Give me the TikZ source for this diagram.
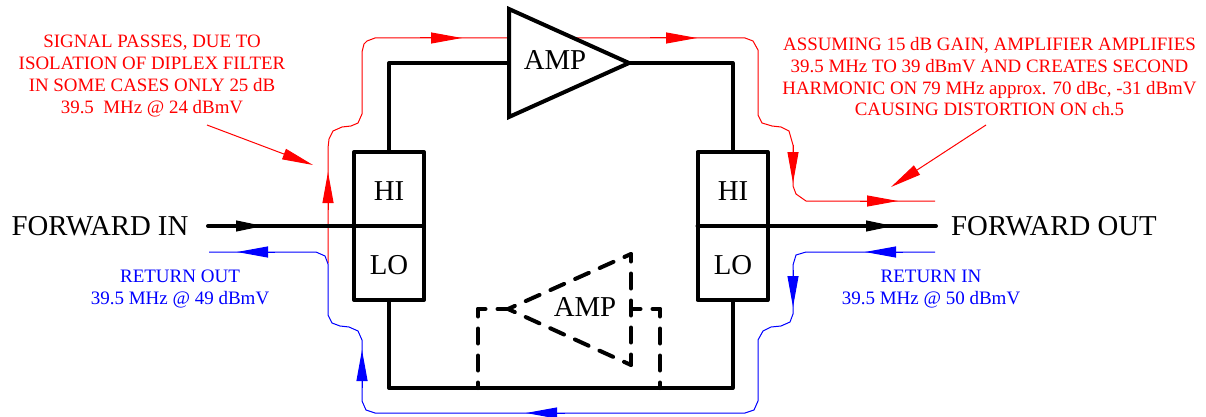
\documentclass[tikz,border=0pt]{standalone}
\usepackage{fontspec}
\setmainfont{Liberation Serif}
\usetikzlibrary{arrows.meta}
\tikzset{
  wire/.style={line width=4pt,black,line cap=round,line join=round},
  dashwire/.style={wire,line cap=round,dash pattern=on 15pt off 12pt,dash phase=7.5pt},
  boxn/.style={draw,line width=4pt,outer sep=0pt,minimum width=70pt,minimum height=74pt,inner sep=0pt,line join=round},
  big/.style={inner sep=0pt,anchor=base,font=\fontsize{28.8}{30}\selectfont},
  rednote/.style={inner sep=0pt,align=center,text=red,font=\fontsize{18.9}{21.7}\selectfont},
  bluenote/.style={inner sep=0pt,align=center,text=blue,font=\fontsize{19}{21.7}\selectfont},
  redline/.style={red,line width=1pt,line join=round},
  blueline/.style={blue,line width=1pt,line join=round},
  redhead/.style={redline,-{Triangle[length=31pt,width=11pt]}},
  bluehead/.style={blueline,-{Triangle[length=31pt,width=11pt]}},
  blackhead/.style={black,line width=1pt,-{Triangle[length=27pt,width=11pt]}},
}
\begin{document}
\begin{tikzpicture}[x=1pt,y=-1pt]
\useasboundingbox[fill=white] (0,0) rectangle (1206,417);
% coordinates of signal paths
\coordinate (inL) at (208,226);
\coordinate (outR) at (936,226);
\coordinate (ampA) at (509,9);
\coordinate (ampB) at (509,117);
\coordinate (ampTip) at (629,63);
\coordinate (ampIn) at (509,63);
\coordinate (dTip) at (508,309);
\coordinate (dA) at (631,254);
\coordinate (dB) at (631,365);
\coordinate (dOut) at (631,309);
\coordinate (dL) at (478,309);
\coordinate (dR) at (660,309);
\coordinate (busL) at (389,388);
\coordinate (busR) at (732.5,388);
\coordinate (busA) at (478,388);
\coordinate (busB) at (660,388);
% red signal (drawn first, amplifier sits on top)
\coordinate (r0) at (328,263);
\coordinate (r1) at (509,38);
\coordinate (r2) at (572,38);
\coordinate (r3) at (935,201);
\draw[redline] (r0) -- (328,148) -- (329,139) -- (333,131) -- (342,127) -- (351,126) -- (358,123) -- (362,114)
  -- (362,52) -- (364,44) -- (367,41) -- (375,38) -- (r1);
\draw[redline] (r2) -- (745,38) -- (753,41) -- (758,50) -- (758,115) -- (762,123) -- (772,126) -- (781,127) -- (789,131) -- (793,145)
  -- (793,186) -- (796,194) -- (806,201) -- (r3);
% blue signal
\coordinate (b0) at (209,252);
\coordinate (b1) at (935,252);
\draw[blueline] (b1) -- (806,252) -- (796,255) -- (793,265) -- (793,314) -- (790,322) -- (781,326) -- (771,327) -- (763,331) -- (758,340)
  -- (758,401) -- (754,410) -- (745,413) -- (375,413) -- (366,410) -- (362,401) -- (362,340) -- (358,331) -- (349,327) -- (340,326) -- (332,323) -- (328,315)
  -- (328,264) -- (325,256) -- (316,252) -- (b0);
% black circuit
\node[boxn] (hiL) at (389,189) {};
\node[boxn] (loL) at (389,263) {};
\node[boxn] (hiR) at (732.5,189) {};
\node[boxn] (loR) at (732.5,263) {};
\node[big] (hiLt) at (389,200) {HI};
\node[big] (loLt) at (389,274) {LO};
\node[big] (hiRt) at (733,200) {HI};
\node[big] (loRt) at (733,274) {LO};
\draw[wire] (hiL.north) |- (ampIn);
\draw[wire] (ampTip) -| (hiR.north);
\draw[wire] (loL.south) |- (busL) -- (busR) -- (loR.south);
\draw[wire,fill=white,miter limit=10,line cap=butt,line join=miter] (ampA) -- (ampB) -- (ampTip) -- cycle;
\node[big] (ampT) at (555,70) {AMP};
\draw[wire] (inL) -- (hiL.south east);
\draw[wire] (hiR.south west) -- (outR);
% dashed amplifier
\draw[dashwire] (dTip) -- (dA);
\draw[dashwire] (dTip) -- (dB);
\draw[dashwire] (dA) -- (dB);
\draw[dashwire] (dL) -- (dTip);
\draw[dashwire] (dL) -- (busA);
\draw[dashwire] (dR) -- (dOut);
\draw[dashwire] (dR) -- (busB);
\node[big] (dampT) at (585,316) {AMP};
% arrowheads
\coordinate (h1a) at (420,38); \coordinate (h1b) at (462,38);
\draw[redhead] (h1a) -- (h1b);
\coordinate (h2a) at (650,38); \coordinate (h2b) at (697,38);
\draw[redhead] (h2a) -- (h2b);
\coordinate (h3a) at (328,210); \coordinate (h3b) at (328,172);
\draw[redhead] (h3a) -- (h3b);
\coordinate (h4a) at (793,145); \coordinate (h4b) at (793,183);
\draw[redhead] (h4a) -- (h4b);
\coordinate (h5a) at (860,201); \coordinate (h5b) at (898,201);
\draw[redhead] (h5a) -- (h5b);
\coordinate (k1a) at (275,252); \coordinate (k1b) at (237,252);
\draw[bluehead] (k1a) -- (k1b);
\coordinate (k2a) at (362,388); \coordinate (k2b) at (362,350);
\draw[bluehead] (k2a) -- (k2b);
\coordinate (k3a) at (565,413); \coordinate (k3b) at (526,413);
\draw[bluehead] (k3a) -- (k3b);
\coordinate (k4a) at (793,270); \coordinate (k4b) at (793,307);
\draw[bluehead] (k4a) -- (k4b);
\coordinate (k5a) at (903,252); \coordinate (k5b) at (865,252);
\draw[bluehead] (k5a) -- (k5b);
\coordinate (m1a) at (230,226); \coordinate (m1b) at (263,226);
\draw[blackhead] (m1a) -- (m1b);
\coordinate (m2a) at (860,226); \coordinate (m2b) at (893,226);
\draw[blackhead] (m2a) -- (m2b);
% labels
\node[big] (fin) at (100,235) {FORWARD IN};
\node[big] (fout) at (1054,235) {FORWARD OUT};
\node[rednote] (noteL) at (152,76) {SIGNAL PASSES, DUE TO\\ISOLATION OF DIPLEX FILTER\\IN SOME CASES ONLY 25 dB\\39.5\ \ MHz @ 24 dBmV};
\node[rednote] (noteR) at (989.5,77) {ASSUMING 15 dB GAIN, AMPLIFIER AMPLIFIES\\39.5 MHz TO 39 dBmV AND CREATES SECOND\\HARMONIC ON 79 MHz approx. 70 dBc, -31 dBmV\\CAUSING DISTORTION ON ch.5};
\node[bluenote] (retL) at (180,289) {RETURN OUT\\39.5 MHz @ 49 dBmV};
\node[bluenote] (retR) at (931,289) {RETURN IN\\39.5 MHz @ 50 dBmV};
% pointers
\coordinate (pL) at (313,165);
\coordinate (pR) at (891,187);
\draw[redhead] (207,125) -- (pL);
\draw[redhead] (986,125) -- (pR);
\end{tikzpicture}
\end{document}
